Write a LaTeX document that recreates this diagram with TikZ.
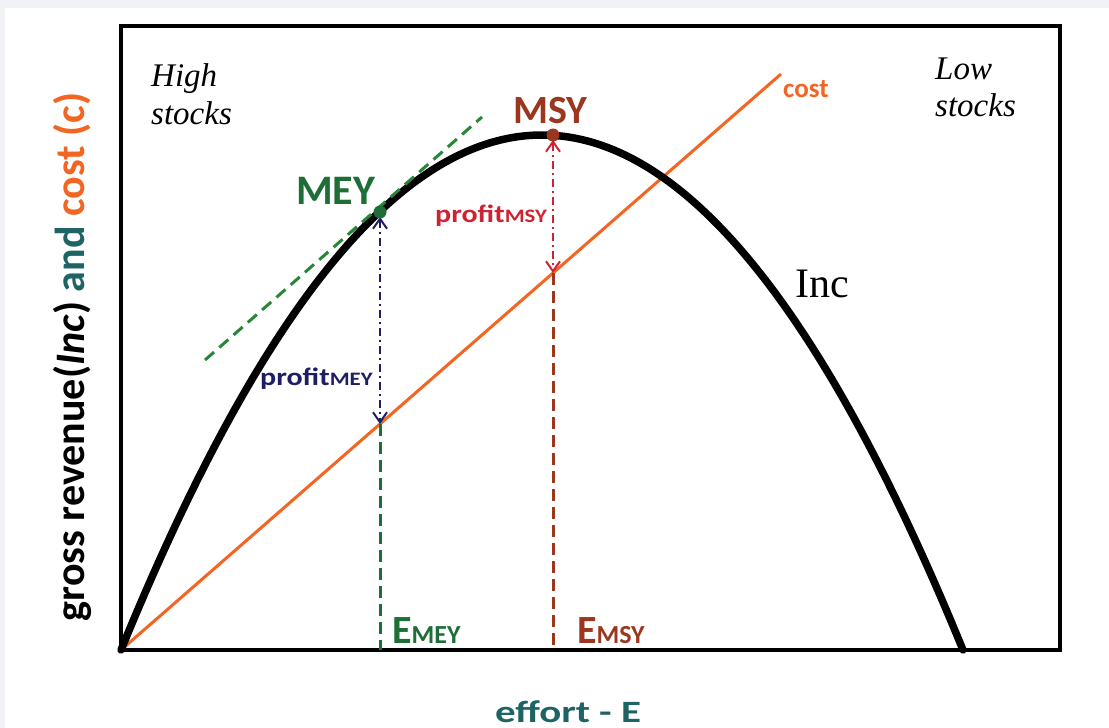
\documentclass[tikz,border=0pt]{standalone}
\usepackage{fontspec}
\setmainfont{Liberation Serif}
\newfontfamily\calib{Carlito}
\usepackage{tikz}
\usetikzlibrary{arrows.meta}
\definecolor{bggray}{RGB}{240,242,245}
\definecolor{meygreen}{RGB}{30,110,55}
\definecolor{tangreen}{RGB}{40,135,55}
\definecolor{msybrown}{RGB}{155,55,30}
\definecolor{profred}{RGB}{205,35,50}
\definecolor{profnavy}{RGB}{30,30,100}
\definecolor{costorange}{RGB}{242,101,34}
\definecolor{axteal}{RGB}{30,100,100}
\newcommand\fsz[1]{\fontsize{#1}{#1}\selectfont}

\begin{document}
\begin{tikzpicture}[x=1pt,y=-1pt,
  frame/.style={line width=3.5pt,black},
  incline/.style={line width=7.5pt,black,line cap=round},
  costline/.style={line width=3pt,costorange},
  tangent/.style={line width=3pt,tangreen,dash pattern=on 12pt off 7pt},
  drop/.style={line width=3pt,dash pattern=on 12pt off 6pt},
  profarrow/.style={line width=1.8pt,dash pattern=on 8pt off 4pt on 2pt off 4pt,
    {Straight Barb[length=10pt,width=14pt,line width=2pt]}-{Straight Barb[length=10pt,width=14pt,line width=2pt]},
    shorten <=5pt},
  lbl/.style={inner sep=0pt,font=\calib\bfseries},
  serif/.style={inner sep=0pt,align=left}]

  \fill[bggray] (0,0) rectangle (1109,728);
  \fill[white] (5,8) rectangle (1109,728);
  \useasboundingbox (0,0) rectangle (1109,728);

  % key points
  \coordinate (O) at (121,650);
  \coordinate (Cend) at (781,74);
  \coordinate (mey) at (380,212);
  \coordinate (msy) at (553,135);
  \coordinate (meyC) at (380,424);
  \coordinate (msyC) at (553,273);
  \coordinate (Emey) at (380,650);
  \coordinate (Emsy) at (553,650);
  \coordinate (tanA) at (205,360);
  \coordinate (tanB) at (482,117);

  \draw[frame] (121,26) rectangle (1060,650);

  \draw[costline] (O) -- (Cend);
  \draw[incline] plot[domain=121:963,samples=90,smooth] (\x,{650-515*(1-((\x-542)/421)^2)});
  \draw[tangent] (tanA) -- (tanB);

  \draw[drop,meygreen] (meyC) -- (Emey);
  \draw[drop,msybrown] (msyC) -- (Emsy);
  \draw[profarrow,profnavy] (mey) -- (meyC);
  \draw[profarrow,profred] (msy) -- (msyC);

  \fill[meygreen] (mey) circle[radius=6.5pt];
  \fill[msybrown] (msy) circle[radius=6.5pt];

  % labels
  \node[serif,anchor=north west,font=\fontsize{33}{38}\selectfont\itshape] (high) at (151,63) {High\\stocks};
  \node[serif,anchor=north west,font=\fontsize{33}{37}\selectfont\itshape] (low) at (935,58) {Low\\stocks};
  \node[serif,anchor=base west,font=\fsz{42}] (inc) at (795,297) {Inc};
  \node[lbl,anchor=base west,costorange,font=\calib\bfseries\fsz{27}] (cost) at (783,97) {cost};
  \node[lbl,anchor=base west,meygreen,font=\calib\bfseries\fsz{42}] (meyl) at (296,204) {MEY};
  \node[lbl,anchor=base west,msybrown,font=\calib\bfseries\fsz{40}] (msyl) at (513,123) {MSY};
  \node[lbl,anchor=base west,profred,font=\calib\bfseries\fsz{25}] (pmsy) at (435,222)
    {\scalebox{1.2}[1]{profit{\fsz{19}MSY}}};
  \node[lbl,anchor=base west,profnavy,font=\calib\bfseries\fsz{25}] (pmey) at (260,385)
    {\scalebox{1.2}[1]{profit{\fsz{19}MEY}}};
  \node[lbl,anchor=base west,meygreen,font=\calib\bfseries\fsz{40}] (emeyl) at (392,643) {E{\fsz{26}MEY}};
  \node[lbl,anchor=base west,msybrown,font=\calib\bfseries\fsz{40}] (emsyl) at (577,643) {E{\fsz{26}MSY}};
  \node[lbl,anchor=base,axteal,font=\calib\bfseries\fsz{31}] (xlab) at (568,722)
    {\scalebox{1.32}[1]{effort - E}};
  \node[lbl,anchor=base,rotate=90,font=\calib\bfseries\fsz{42}] (ylab) at (84,357)
    {gross revenue(\textit{Inc}) \textcolor{axteal}{and} \textcolor{costorange}{cost (c)}};
\end{tikzpicture}
\end{document}
